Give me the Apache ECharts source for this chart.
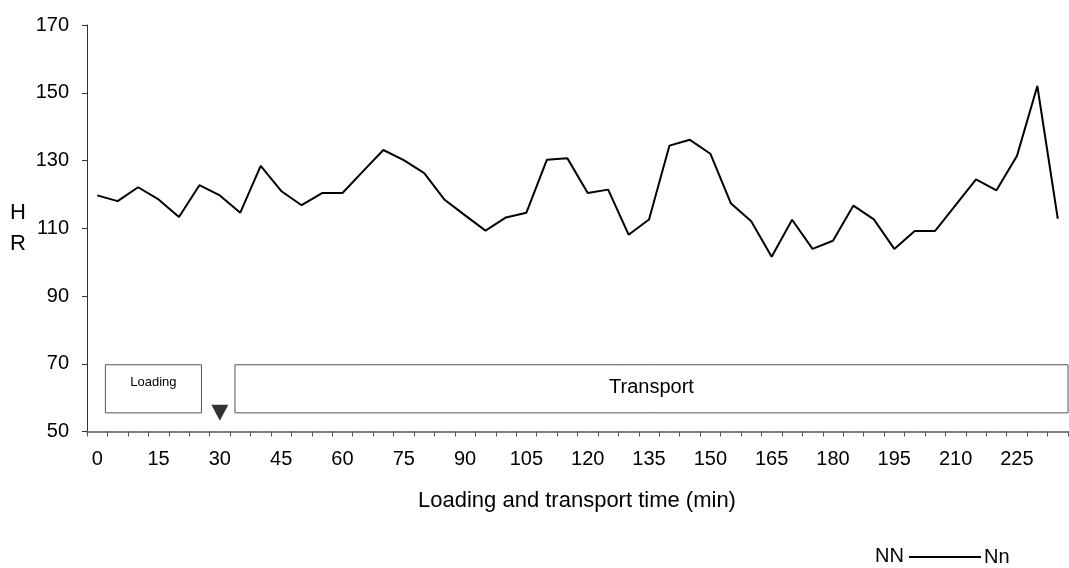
<!DOCTYPE html>
<html>
<head>
<meta charset="utf-8">
<script src="https://cdn.jsdelivr.net/npm/echarts@6/dist/echarts.min.js"></script>
<style>html,body{margin:0;padding:0;background:#fff;}#c{width:1069px;height:568px;}</style>
</head>
<body>
<div id="c"></div>
<script>
// Categories: minutes 0..235 step 5
var minutes = [0,5,10,15,20,25,30,35,40,45,50,55,60,65,70,75,80,85,90,95,100,105,110,115,120,125,130,135,140,145,150,155,160,165,170,175,180,185,190,195,200,205,210,215,220,225,230,235];
var hr = [119.7,118.0,122.1,118.5,113.3,122.7,119.7,114.6,128.4,121.0,116.8,120.4,120.4,126.8,133.1,130.1,126.3,118.4,113.8,109.3,113.2,114.6,130.2,130.7,120.4,121.4,108.1,112.6,134.4,136.1,132.0,117.4,112.1,101.6,112.5,103.9,106.3,116.7,112.6,103.9,109.2,109.2,116.8,124.4,121.2,131.3,152.0,112.8];
var yTicks = [50,70,90,110,130,150,170];
// Phase annotations (minutes, HR units)
var loadingPhase = {name:'Loading', start:2, end:25.5};
var transportPhase = {name:'Transport', start:33.7, end:237.5};
var phaseBand = [55.5, 69.7];
var departureMark = [30, 55.5];
var seriesName = 'Nn';
var legendLeftText = 'NN';
var xTitle = 'Loading and transport time (min)';
var yTitle = 'H\nR';

var font = 'Liberation Sans, Arial, sans-serif';
var chart = echarts.init(document.getElementById('c'));
chart.setOption({
  animation: false,
  backgroundColor: '#fff',
  textStyle: {fontFamily: font, color: '#000'},
  grid: {left: 87, right: 1, top: 25, bottom: 136.5, containLabel: false, outerBoundsMode: 'none'},
  xAxis: [{
    type: 'category',
    data: minutes.map(String),
    boundaryGap: true,
    axisLine: {onZero: false, lineStyle: {color: '#808080', width: 2}},
    axisTick: {show: true, interval: 0, length: 5, lineStyle: {color: '#555', width: 1}},
    axisLabel: {interval: 2, fontSize: 20, color: '#000', margin: 18, fontFamily: font},
    splitLine: {show: false}
  },{
    type: 'value', min: -2.5, max: 237.5, show: false
  }],
  yAxis: {
    type: 'value', min: yTicks[0], max: yTicks[yTicks.length-1], interval: 20,
    axisLine: {show: true, onZero: false, lineStyle: {color: '#333', width: 1}},
    axisTick: {show: true, length: 5, lineStyle: {color: '#333'}},
    axisLabel: {fontSize: 20, color: '#000', margin: 18, fontFamily: font},
    splitLine: {show: false}
  },
  legend: {
    left: 909, top: 547, padding: 0,
    itemWidth: 72, itemHeight: 2, itemGap: 5,
    data: [{name: seriesName, icon: 'rect', itemStyle: {color: '#000'}}],
    textStyle: {fontSize: 20, color: '#000', fontFamily: font, padding: [0,0,0,-2]}
  },
  series: [{
    name: seriesName,
    type: 'line',
    data: hr,
    symbol: 'none',
    lineStyle: {color: '#000', width: 2},
    itemStyle: {color: '#000'},
    z: 3
  },{
    name: 'phases',
    type: 'scatter',
    xAxisIndex: 1,
    data: [departureMark],
    symbol: 'triangle',
    symbolRotate: 180,
    symbolSize: [17, 16],
    itemStyle: {color: '#000'},
    silent: true,
    markArea: {
      silent: true,
      itemStyle: {color: 'rgba(255,255,255,0)', borderColor: '#555', borderWidth: 1},
      data: [
        [{name: loadingPhase.name, coord: [loadingPhase.start, phaseBand[1]],
          label: {position: 'inside', offset: [0, -6], fontSize: 13, color: '#000', fontFamily: font}},
         {coord: [loadingPhase.end, phaseBand[0]]}],
        [{name: transportPhase.name, coord: [transportPhase.start, phaseBand[1]],
          label: {position: 'inside', offset: [0, -1], fontSize: 20, color: '#000', fontFamily: font}},
         {coord: [transportPhase.end, phaseBand[0]]}]
      ]
    }
  }],
  graphic: [
    {type: 'text', left: 418, top: 490, style: {text: xTitle, fontSize: 22, fill: '#000', fontFamily: font}},
    {type: 'text', x: 18, y: 228, style: {text: yTitle, fontSize: 22, lineHeight: 31, fill: '#000', fontFamily: font, align: 'center', verticalAlign: 'middle'}},
    {type: 'text', x: 904, y: 556, style: {text: legendLeftText, fontSize: 20, fill: '#000', fontFamily: font, align: 'right', verticalAlign: 'middle'}}
  ]
});
</script>
</body>
</html>
